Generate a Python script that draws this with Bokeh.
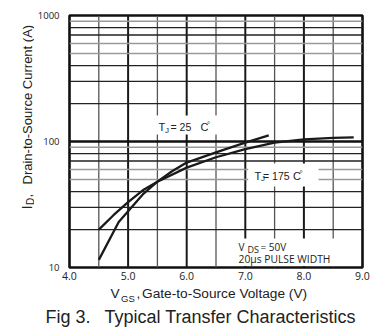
from bokeh.plotting import figure
from bokeh.layouts import column, row
from bokeh.models import Label, FixedTicker, Range1d
from bokeh.embed import file_html
from bokeh.resources import INLINE

# ---- data ----
vgs_25 = [4.5, 4.84, 5.0, 5.25, 5.5, 5.75, 6.0, 6.5, 7.0, 7.4]
id_25 = [11.5, 23.0, 28.0, 38.0, 48.0, 58.0, 68.0, 82.0, 98.0, 112.0]

vgs_175 = [4.5, 4.75, 5.0, 5.25, 5.5, 6.0, 6.5, 7.0, 7.5, 8.0, 8.5, 8.85]
id_175 = [20.0, 26.0, 33.0, 41.0, 48.0, 62.0, 75.0, 87.0, 98.0, 104.0, 107.0, 108.0]

x_ticks = [4, 5, 6, 7, 8, 9]
x_tick_labels = ["4.0", "5.0", "6.0", "7.0", "8.0", "9.0"]
y_ticks = [10, 100, 1000]
y_tick_labels = ["10", "100", "1000"]

x_major_grid = [5, 6, 7, 8]
x_minor_grid = [4.5, 5.5, 6.5, 7.5, 8.5]
y_decade_grid = [100]
y_black_grid = [20, 30, 40, 70, 80, 200, 300, 400, 700, 800]
y_gray_grid = [50, 60, 90, 500, 600, 900]

X_MIN, X_MAX = 4, 9
Y_MIN, Y_MAX = 10, 1000

# white label backgrounds (left, right, bottom, top) in data units
box_left = [5.41, 7.05, 6.73]
box_right = [6.68, 8.25, 8.62]
box_bottom = [113.7, 44.0, 10.3]
box_top = [160.7, 66.8, 17.0]

TXT = "#222222"
SANS = "Liberation Sans"
TICK_FONT = "Open Sans"

# ---------------- main chart ----------------
p = figure(width=343, height=286, output_backend="svg", toolbar_location=None,
           x_range=Range1d(X_MIN, X_MAX), y_range=Range1d(Y_MIN, Y_MAX),
           y_axis_type="log",
           min_border_left=32, min_border_right=15, min_border_top=15, min_border_bottom=19)
p.background_fill_color = "white"
p.border_fill_color = "white"
p.outline_line_color = "#111111"
p.outline_line_width = 2.6
p.grid.visible = False


def style_axis(ax, size, standoff):
    ax.axis_line_color = None
    ax.major_tick_line_color = None
    ax.minor_tick_line_color = None
    ax.major_tick_out = 0
    ax.major_tick_in = 0
    ax.minor_tick_out = 0
    ax.minor_tick_in = 0
    ax.major_label_text_font = TICK_FONT
    ax.major_label_text_color = TXT
    ax.major_label_text_font_size = size
    ax.major_label_standoff = standoff


xax = p.xaxis[0]
style_axis(xax, "10.5px", 4)
xax.ticker = FixedTicker(ticks=x_ticks, minor_ticks=[])
xax.major_label_overrides = {t: s for t, s in zip(x_ticks, x_tick_labels)}

yax = p.yaxis[0]
style_axis(yax, "9.5px", 10)
yax.ticker = FixedTicker(ticks=y_ticks, minor_ticks=[])
yax.major_label_overrides = {t: s for t, s in zip(y_ticks, y_tick_labels)}

# grid lines
p.segment(x0=x_minor_grid, y0=[Y_MIN] * len(x_minor_grid), x1=x_minor_grid, y1=[Y_MAX] * len(x_minor_grid),
          line_color="#555555", line_width=1.3)
p.segment(x0=x_major_grid, y0=[Y_MIN] * len(x_major_grid), x1=x_major_grid, y1=[Y_MAX] * len(x_major_grid),
          line_color="#1a1a1a", line_width=2.0)
p.segment(x0=[X_MIN] * len(y_gray_grid), y0=y_gray_grid, x1=[X_MAX] * len(y_gray_grid), y1=y_gray_grid,
          line_color="#9a9a9a", line_width=1.6)
p.segment(x0=[X_MIN] * len(y_black_grid), y0=y_black_grid, x1=[X_MAX] * len(y_black_grid), y1=y_black_grid,
          line_color="#222222", line_width=1.3)
p.segment(x0=[X_MIN] * len(y_decade_grid), y0=y_decade_grid, x1=[X_MAX] * len(y_decade_grid), y1=y_decade_grid,
          line_color="#111111", line_width=2.4)

# label backgrounds
p.quad(left=box_left, right=box_right, bottom=box_bottom, top=box_top,
       fill_color="white", line_color=None)

# curves
p.line(vgs_25, id_25, line_color="#1a1a1a", line_width=2.3)
p.line(vgs_175, id_175, line_color="#1a1a1a", line_width=2.3)


def lab(fig, text, fx, fy, size, angle=0.0, font=SANS):
    fig.add_layout(Label(x=fx, y=fy, x_units="screen", y_units="screen", text=text,
                         text_font=font, text_font_size=f"{size}px", text_color=TXT,
                         text_align="left", text_baseline="alphabetic", angle=angle))


# in-plot annotations (offsets from the frame's bottom-left, in pixels)
lab(p, "T", 89, 140.8, 11)
lab(p, "J", 95.5, 137.3, 8)
lab(p, "= 25", 101, 140.6, 10.5)
lab(p, "C", 131, 140.8, 11)
lab(p, "°", 137.5, 142.8, 8)

lab(p, "T", 185, 91.8, 11)
lab(p, "J", 191.5, 88.8, 8)
lab(p, "= 175", 193.5, 91.6, 10.5)
lab(p, "C", 223.5, 91.8, 11)
lab(p, "°", 230, 93.8, 8)

lab(p, "V", 169, 20.9, 10, font=TICK_FONT)
lab(p, "DS", 178, 18, 9, font=TICK_FONT)
lab(p, "= 50V", 191, 20.9, 10, font=TICK_FONT)
lab(p, "20µs PULSE WIDTH", 169, 8.5, 10.3, font=TICK_FONT)


# ---------------- text strips ----------------
def strip(w, h):
    f = figure(width=w, height=h, output_backend="svg", toolbar_location=None,
               x_range=Range1d(0, 1), y_range=Range1d(0, 1),
               x_axis_location=None, y_axis_location=None, min_border=0)
    f.outline_line_color = None
    f.background_fill_color = "white"
    f.border_fill_color = "white"
    f.grid.visible = False
    return f


# y-axis title, to the left of the chart
ytitle = strip(34, 286)
ang = 1.5707963
lab(ytitle, "I", 25.8, 58, 15, angle=ang)
lab(ytitle, "D", 29.5, 62.5, 10, angle=ang)
lab(ytitle, ",", 26.5, 70, 13, angle=ang)
lab(ytitle, "Drain-to-Source Current (A)", 26.5, 83, 13, angle=ang)

# x-axis title and caption, below the chart
bottom = strip(377, 42)
lab(bottom, "V", 110, 35.25, 13.7)
lab(bottom, "GS", 120.5, 29.8, 9.5)
lab(bottom, ",", 136, 35.25, 13.7)
lab(bottom, "Gate-to-Source Voltage (V)", 141.5, 35.25, 13.7)
lab(bottom, "Fig 3.", 45, 11.2, 18)
lab(bottom, "Typical Transfer Characteristics", 104, 11.2, 18)

layout = column(row(ytitle, p, spacing=0), bottom, spacing=0)

open("out.html", "w").write(file_html(layout, INLINE))
